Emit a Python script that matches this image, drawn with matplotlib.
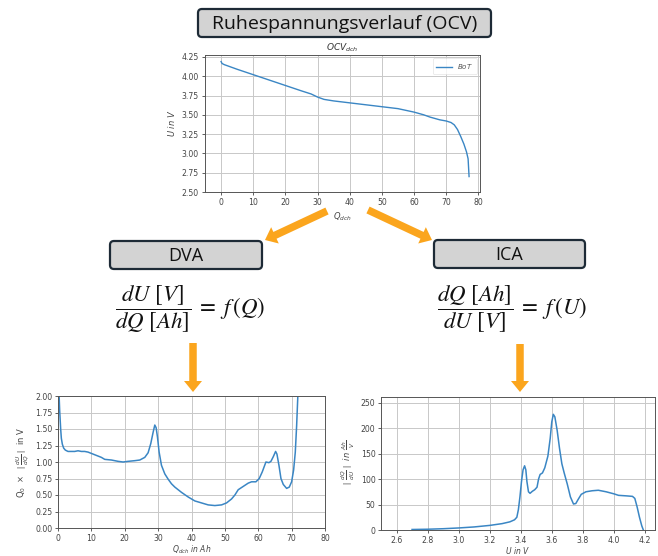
import matplotlib
matplotlib.use("Agg")
import matplotlib.pyplot as plt
import numpy as np
from matplotlib.patches import FancyBboxPatch
from matplotlib.ticker import FormatStrFormatter

# ---------------- data ----------------
q_ocv = [0, 0.3, 1, 3, 5, 10, 15, 20, 25, 28, 30, 32, 35, 40, 45, 50, 55, 60,
         63, 65, 68, 70, 71.5, 72.5, 73.5, 74.5, 75.5, 76.3, 76.8, 77.1]
u_ocv = [4.19, 4.165, 4.15, 4.12, 4.09, 4.02, 3.95, 3.88, 3.81, 3.77, 3.73, 3.70,
         3.68, 3.655, 3.63, 3.605, 3.58, 3.535, 3.50, 3.47, 3.435, 3.42, 3.40,
         3.37, 3.31, 3.22, 3.12, 3.02, 2.93, 2.70]

q_dva = [0.3, 0.5, 0.8, 1.0, 1.3, 1.7, 2.2, 3, 4, 5, 6, 7, 8, 9, 10, 11, 12, 13,
         14, 16, 18, 19.5, 21, 23, 24.5, 26, 27, 27.8, 28.5, 29, 29.4, 29.8,
         30.3, 31, 32, 33, 34, 35, 37, 39, 41, 43, 45, 47, 49, 50.5, 52, 53, 54,
         55.5, 57, 58, 59.3, 60.3, 61.2, 62.3, 63.2, 63.8, 64.5, 65.2, 65.6,
         66.2, 66.8, 67.5, 68.5, 69.3, 70, 70.6, 71.1, 71.5, 71.9, 72.2]
dva = [2.05, 1.78, 1.50, 1.36, 1.27, 1.21, 1.18, 1.16, 1.16, 1.16, 1.17, 1.16,
       1.16, 1.15, 1.13, 1.11, 1.09, 1.07, 1.04, 1.03, 1.01, 1.00, 1.01, 1.02,
       1.03, 1.07, 1.14, 1.28, 1.45, 1.56, 1.52, 1.38, 1.15, 0.95, 0.82, 0.74,
       0.67, 0.62, 0.54, 0.47, 0.41, 0.38, 0.35, 0.34, 0.35, 0.38, 0.44, 0.50,
       0.58, 0.63, 0.68, 0.70, 0.70, 0.75, 0.85, 1.00, 0.99, 1.01, 1.08, 1.16,
       1.12, 0.95, 0.75, 0.66, 0.60, 0.62, 0.70, 0.88, 1.15, 1.55, 2.05, 2.5]

u_ica = [2.70, 2.80, 2.90, 3.00, 3.10, 3.20, 3.28, 3.33, 3.36, 3.375, 3.385,
         3.395, 3.405, 3.415, 3.425, 3.433, 3.44, 3.45, 3.46, 3.475, 3.49, 3.505,
         3.515, 3.525, 3.54, 3.555, 3.575, 3.59, 3.60, 3.61, 3.62, 3.635, 3.65,
         3.665, 3.68, 3.70, 3.72, 3.74, 3.755, 3.77, 3.79, 3.82, 3.86, 3.90,
         3.95, 4.00, 4.03, 4.08, 4.12, 4.135, 4.15, 4.165, 4.18, 4.19]
ica = [1, 1.5, 2.5, 4, 6, 9, 12.5, 16, 20, 25, 40, 65, 95, 118, 126, 118, 95, 75,
       72, 76, 79, 84, 100, 109, 112, 122, 145, 180, 212, 227, 222, 195, 160,
       130, 112, 90, 65, 51, 52, 60, 70, 75, 77, 78, 75, 71, 68, 67, 66, 62, 45,
       25, 8, 0]

top_title = "Ruhespannungsverlauf (OCV)"
left_title = "DVA"
right_title = "ICA"

# ---------------- figure ----------------
W, H = 658, 556
fig = plt.figure(figsize=(W / 100, H / 100), dpi=100)

line_col = "#3a86c4"
orange = "#fba51d"
box_face = "#d3d3d3"
box_edge = "#1d2a36"
tick_col = "#444444"


def add_ax(x0, y0, x1, y1):
    return fig.add_axes([x0 / W, 1 - y1 / H, (x1 - x0) / W, (y1 - y0) / H])


def style(ax, pad=2):
    ax.grid(True, color="#c8c8c8", lw=0.7)
    ax.set_axisbelow(True)
    for s in ax.spines.values():
        s.set_color("#555555")
        s.set_linewidth(0.7)
    ax.tick_params(labelsize=5.6, colors=tick_col, length=2.5, width=0.6, pad=pad)


# overlay axes for diagram elements (pixel coordinates)
ov = fig.add_axes([0, 0, 1, 1])
ov.set_xlim(0, W)
ov.set_ylim(H, 0)
ov.axis("off")


def box(x0, y0, x1, y1, text, fs):
    p = FancyBboxPatch((x0, y0), x1 - x0, y1 - y0,
                       boxstyle="round,pad=0,rounding_size=4",
                       fc=box_face, ec=box_edge, lw=1.6)
    ov.add_patch(p)
    ov.text((x0 + x1) / 2, (y0 + y1) / 2 + 1, text, ha="center", va="center",
            fontsize=fs, family="Open Sans", color="#111111")


box(198, 9, 491, 37, top_title, 14)
box(110, 241, 262, 269, left_title, 13)
box(434, 240, 585, 268, right_title, 13)


def arrow(x0, y0, x1, y1):
    ov.arrow(x0, y0, x1 - x0, y1 - y0, width=7.5, head_width=18,
             head_length=11, length_includes_head=True, fc=orange, ec="none")


arrow(327, 211, 265, 240)
arrow(368, 210, 432, 240)
arrow(193, 343, 193, 392)
arrow(520, 344, 520, 392)

plt.rcParams["mathtext.fontset"] = "stix"
ov.text(190, 309, r"$\dfrac{dU\ [V]}{dQ\ [Ah]}\;=\;f\,(Q)$", ha="center",
        va="center", fontsize=16.5, color="#111111")
ov.text(512, 309, r"$\dfrac{dQ\ [Ah]}{dU\ [V]}\;=\;f\,(U)$", ha="center",
        va="center", fontsize=16.5, color="#111111")
plt.rcParams["mathtext.fontset"] = "dejavusans"

# ---- top OCV chart ----
ax1 = add_ax(205, 55, 480, 192)
style(ax1)
ax1.plot(q_ocv, u_ocv, color=line_col, lw=1.0, label=r"$BoT$")
ax1.set_xlim(-5, 80.5)
ax1.set_ylim(2.5, 4.275)
ax1.set_xticks(np.arange(0, 81, 10))
ax1.set_yticks(np.arange(2.5, 4.26, 0.25))
ax1.yaxis.set_major_formatter(FormatStrFormatter("%.2f"))
ax1.set_title(r"$OCV_{dch}$", fontsize=6.5, color="#333333", pad=3)
ax1.set_xlabel(r"$Q_{dch}$", fontsize=6, color="#444444", labelpad=2)
ax1.set_ylabel(r"$U\ in\ V$", fontsize=6, color="#444444", labelpad=3)
leg = ax1.legend(loc="upper right", fontsize=5, frameon=True, handlelength=2.2,
                 borderpad=0.5, labelcolor="#555555")
leg.get_frame().set_edgecolor("#dddddd")
leg.get_frame().set_linewidth(0.5)

# ---- bottom-left DVA chart ----
ax2 = add_ax(58, 396, 325, 528)
style(ax2, pad=1.5)
ax2.plot(q_dva, dva, color=line_col, lw=1.1)
ax2.set_xlim(0, 80)
ax2.set_ylim(0, 2.0)
ax2.set_xticks(np.arange(0, 81, 10))
ax2.set_yticks(np.arange(0, 2.01, 0.25))
ax2.yaxis.set_major_formatter(FormatStrFormatter("%.2f"))
ax2.set_xlabel(r"$Q_{dch}\ in\ Ah$", fontsize=5.5, color="#444444", labelpad=0.5)
ax2.set_ylabel(r"$\mathrm{Q_0}\ \times\ \mid\frac{dU}{dQ}\mid\ \mathrm{in\ V}$",
               fontsize=6, color="#444444", labelpad=3)

# ---- bottom-right ICA chart ----
ax3 = add_ax(381, 397, 655, 530)
style(ax3, pad=1.5)
ax3.plot(u_ica, ica, color=line_col, lw=1.1)
ax3.set_xlim(2.5, 4.265)
ax3.set_ylim(0, 261)
ax3.set_xticks(np.arange(2.6, 4.21, 0.2))
ax3.xaxis.set_major_formatter(FormatStrFormatter("%.1f"))
ax3.set_yticks(np.arange(0, 251, 50))
ax3.set_xlabel(r"$U\ in\ V$", fontsize=5.5, color="#444444", labelpad=0.5)
ax3.set_ylabel(r"$\mid\frac{dQ}{dU}\mid\ in\ \frac{Ah}{V}$", fontsize=6,
               color="#444444", labelpad=3)

fig.savefig("out.png", dpi=100)
